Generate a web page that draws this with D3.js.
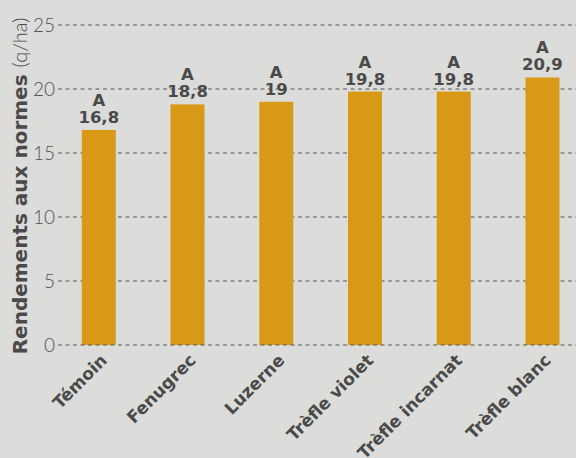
<!DOCTYPE html>
<html>
<head>
<meta charset="utf-8">
<script src="https://cdn.jsdelivr.net/npm/d3@7"></script>
<style>
  body { margin: 0; background: #dcdcdb; }
  svg { display: block; }
</style>
</head>
<body>
<div id="chart"></div>
<script>
let categories = ["Témoin", "Fenugrec", "Luzerne", "Trèfle violet", "Trèfle incarnat", "Trèfle blanc"];
let values = [16.8, 18.8, 19, 19.8, 19.8, 20.9];
let groups = ["A", "A", "A", "A", "A", "A"];
let yTicks = [0, 5, 10, 15, 20, 25];

let width = 576;
let height = 458;
let textColor = "#4a4a4a";
let barColor = "#d89916";

let svg = d3.select("#chart").append("svg")
    .attr("width", width)
    .attr("height", height);

let y = d3.scaleLinear().domain([0, 25]).range([345, 25]);
let x = d3.scaleBand().domain(categories)
    .range([54.4, 54.4 + 6 * 88.74])
    .paddingInner(0.617)
    .paddingOuter(0.3085);

// grid lines (behind the bars)
svg.append("g").selectAll("line")
    .data(yTicks.filter(d => d > 0))
    .join("line")
    .attr("x1", 58).attr("x2", width)
    .attr("y1", d => y(d)).attr("y2", d => y(d))
    .attr("stroke", "#555")
    .attr("stroke-width", 1)
    .attr("stroke-dasharray", "4,3.5");

// tick labels
svg.append("g").selectAll("text")
    .data(yTicks)
    .join("text")
    .attr("x", 55)
    .attr("y", d => y(d))
    .attr("dy", "0.36em")
    .attr("text-anchor", "end")
    .style("font-family", "Lato, 'Open Sans', sans-serif")
    .style("font-weight", 300)
    .style("font-size", "19px")
    .attr("fill", "#555")
    .text(d => d);

// bars
svg.append("g").selectAll("rect")
    .data(values)
    .join("rect")
    .attr("x", (d, i) => x(categories[i]))
    .attr("y", d => y(d))
    .attr("width", x.bandwidth())
    .attr("height", d => y(0) - y(d))
    .attr("fill", barColor);

// zero line on top
svg.append("line")
    .attr("x1", 58).attr("x2", width)
    .attr("y1", y(0)).attr("y2", y(0))
    .attr("stroke", "#555")
    .attr("stroke-dasharray", "4,3.5");

// value labels
let labelFont = "'DejaVu Sans', sans-serif";
let lbl = svg.append("g").selectAll("g")
    .data(values)
    .join("g")
    .attr("transform", (d, i) => "translate(" + (x(categories[i]) + x.bandwidth() / 2) + "," + (y(d) - 7) + ")");
lbl.append("text")
    .attr("text-anchor", "middle")
    .style("font-family", labelFont)
    .style("font-weight", "bold")
    .style("font-size", "16.5px")
    .attr("fill", textColor)
    .text(d => String(d).replace(".", ","));
lbl.append("text")
    .attr("text-anchor", "middle")
    .attr("y", -17)
    .style("font-family", labelFont)
    .style("font-weight", "bold")
    .style("font-size", "16.5px")
    .attr("fill", textColor)
    .text((d, i) => groups[i]);

// category labels
svg.append("g").selectAll("text")
    .data(categories)
    .join("text")
    .attr("transform", d => "translate(" + (x(d) + x.bandwidth() / 2 + 1) + ",353) rotate(-45)")
    .attr("text-anchor", "end")
    .attr("dy", "0.7em")
    .style("font-family", labelFont)
    .style("font-weight", "bold")
    .style("font-size", "17px")
    .attr("fill", textColor)
    .text(d => d);

// y title
let title = svg.append("text")
    .attr("transform", "translate(27,186) rotate(-90)")
    .attr("text-anchor", "middle")
    .style("font-size", "20px")
    .attr("fill", textColor);
title.append("tspan")
    .style("font-family", labelFont)
    .style("font-weight", "bold")
    .text("Rendements aux normes ");
title.append("tspan")
    .style("font-family", "Lato, sans-serif")
    .style("font-weight", 300)
    .text("(q/ha)");
</script>
</body>
</html>
